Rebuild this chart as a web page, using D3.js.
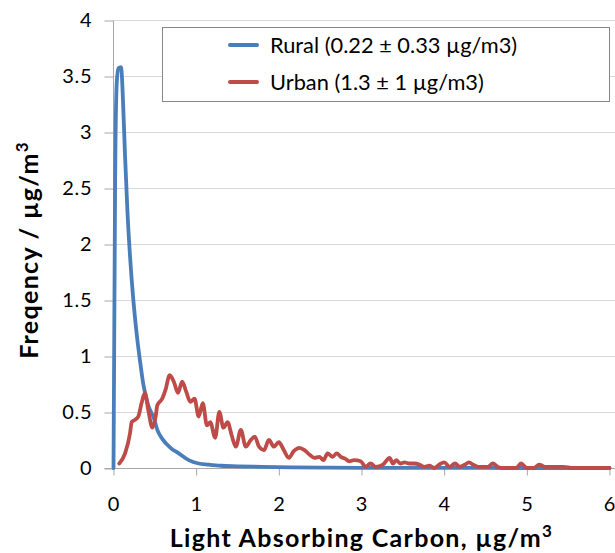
<!DOCTYPE html>
<html lang="en">
<head>
  <meta charset="UTF-8">
  <script src="https://d3js.org/d3.v7.min.js"></script>
  <title>Light Absorbing Carbon frequency</title>
  <style>
    body {
      margin: 0;
      background: #fff;
      font-family: Lato, "Open Sans", sans-serif;
    }
    .grid line { stroke: #d9d9d9; stroke-width: 1; }
    .axis path, .axis line { stroke: #a6a6a6; }
    .axis text { font-size: 20px; letter-spacing: 0.8px; fill: #000; font-family: Lato, sans-serif; }
    .title { font-size: 25px; font-weight: bold; fill: #000; }
    .legend text { font-size: 21.8px; fill: #000; }
  </style>
</head>
<body>
<script>
  // x ticks and y ticks as shown on the chart
  const xTicks = [0, 1, 2, 3, 4, 5, 6];
  const yTicks = [0, 0.5, 1, 1.5, 2, 2.5, 3, 3.5, 4];

  // Rural frequency distribution [LAC, frequency]
  const rural = [
    [0, 0], [0.02, 2.6], [0.04, 3.45], [0.06, 3.57], [0.09, 3.58], [0.10, 3.52],
    [0.11, 3.37], [0.14, 2.78], [0.17, 2.27], [0.20, 1.89], [0.24, 1.50],
    [0.28, 1.20], [0.32, 0.96], [0.36, 0.75], [0.42, 0.56], [0.49, 0.44],
    [0.53, 0.34], [0.59, 0.26], [0.69, 0.18], [0.79, 0.13], [0.91, 0.07],
    [1.03, 0.04], [1.15, 0.03], [1.3, 0.02], [1.5, 0.015], [1.8, 0.01],
    [2.2, 0.005], [2.6, 0.003], [3.0, 0.002], [4.0, 0.001], [5.0, 0], [6.0, 0]
  ];

  // Urban frequency distribution [LAC, frequency]
  const urban = [
    [0.07, 0.04], [0.14, 0.13], [0.20, 0.31], [0.22, 0.41], [0.26, 0.43], [0.30, 0.46],
    [0.34, 0.58], [0.38, 0.67], [0.42, 0.52], [0.47, 0.36], [0.51, 0.46], [0.53, 0.56],
    [0.59, 0.62], [0.63, 0.70], [0.68, 0.83], [0.73, 0.77], [0.78, 0.67], [0.83, 0.77],
    [0.88, 0.68], [0.93, 0.59], [0.98, 0.62], [1.03, 0.46], [1.08, 0.58], [1.13, 0.38],
    [1.17, 0.41], [1.23, 0.27], [1.28, 0.50], [1.33, 0.36], [1.38, 0.41], [1.43, 0.29],
    [1.48, 0.19], [1.54, 0.34], [1.60, 0.19], [1.66, 0.25], [1.71, 0.28], [1.76, 0.19],
    [1.82, 0.16], [1.88, 0.25], [1.94, 0.19], [2.00, 0.23], [2.06, 0.16], [2.12, 0.09],
    [2.18, 0.15], [2.25, 0.18], [2.31, 0.16], [2.37, 0.12], [2.43, 0.09], [2.49, 0.10],
    [2.54, 0.07], [2.59, 0.13], [2.65, 0.10], [2.70, 0.13], [2.75, 0.10], [2.81, 0.08],
    [2.85, 0.06], [2.91, 0.07], [2.99, 0.06], [3.05, 0.01], [3.11, 0.04], [3.17, 0.01],
    [3.26, 0.03], [3.34, 0.09], [3.38, 0.04], [3.42, 0.07], [3.47, 0.04], [3.52, 0.05],
    [3.58, 0.04], [3.64, 0.04], [3.70, 0.03], [3.76, 0.01], [3.82, 0.02], [3.88, 0.0],
    [3.94, 0.03], [4.00, 0.05], [4.07, 0.01], [4.13, 0.04], [4.19, 0.01], [4.25, 0.03],
    [4.30, 0.05], [4.35, 0.03], [4.41, 0.01], [4.47, 0.01], [4.53, 0.01], [4.59, 0.04],
    [4.65, 0.01], [4.71, 0], [4.81, 0], [4.87, 0], [4.93, 0.04], [5.0, 0], [5.08, 0],
    [5.15, 0.03], [5.22, 0.01], [5.32, 0.01], [5.44, 0.01], [5.56, 0], [5.68, 0], [6.0, 0]
  ];

  const seriesNames = ["Rural (0.22 \u00b1 0.33 \u00b5g/m3)", "Urban (1.3 \u00b1 1 \u00b5g/m3)"];
  const seriesColors = ["#4a7ebb", "#be4b48"];

  const width = 615, height = 553;
  const margin = { top: 20, right: 5.5, bottom: 85, left: 113.5 };

  const svg = d3.select("body").append("svg")
    .attr("width", width)
    .attr("height", height);

  const x = d3.scaleLinear().domain([0, 6]).range([margin.left, width - margin.right]);
  const y = d3.scaleLinear().domain([0, 4]).range([height - margin.bottom, margin.top]);

  // horizontal gridlines
  svg.append("g")
    .attr("class", "grid")
    .selectAll("line")
    .data(yTicks.filter(d => d > 0))
    .enter().append("line")
    .attr("x1", margin.left)
    .attr("x2", width)
    .attr("y1", d => y(d) + 0.5)
    .attr("y2", d => y(d) + 0.5);

  // y axis
  const yAxis = svg.append("g")
    .attr("class", "axis")
    .attr("transform", `translate(${margin.left},0.5)`)
    .call(d3.axisLeft(y).tickValues(yTicks).tickSize(9).tickPadding(12).tickFormat(d3.format("")));
  yAxis.select(".domain").remove();
  yAxis.append("line")
    .attr("y1", y(4)).attr("y2", y(0))
    .attr("stroke", "#a6a6a6");

  // x axis
  const xAxis = svg.append("g")
    .attr("class", "axis")
    .attr("transform", `translate(0,${y(0) + 0.5})`)
    .call(d3.axisBottom(x).tickValues(xTicks).tickSize(7).tickPadding(21).tickFormat(d3.format("d")));
  xAxis.select(".domain").remove();
  xAxis.append("line")
    .attr("x1", margin.left - 9).attr("x2", width)
    .attr("stroke", "#a6a6a6");

  // lines
  const line = d3.line()
    .x(d => x(d[0]))
    .y(d => y(d[1]))
    .curve(d3.curveMonotoneX);

  [rural, urban].forEach((data, i) => {
    svg.append("path")
      .datum(data)
      .attr("fill", "none")
      .attr("stroke", seriesColors[i])
      .attr("stroke-width", 3.8)
      .attr("stroke-linejoin", "round")
      .attr("stroke-linecap", "round")
      .attr("d", line);
  });

  // legend
  const legend = svg.append("g").attr("class", "legend");
  legend.append("rect")
    .attr("x", 162.5).attr("y", 27.5)
    .attr("width", 447).attr("height", 74)
    .attr("fill", "#fff")
    .attr("stroke", "#868686");
  seriesNames.forEach((name, i) => {
    const ly = 45 + i * 37;
    legend.append("line")
      .attr("x1", 230).attr("x2", 257)
      .attr("y1", ly).attr("y2", ly)
      .attr("stroke", seriesColors[i])
      .attr("stroke-width", 4)
      .attr("stroke-linecap", "round");
    legend.append("text")
      .attr("x", 270).attr("y", ly + 8)
      .text(name);
  });

  // axis titles
  svg.append("text")
    .attr("class", "title")
    .attr("x", (margin.left + width - margin.right) / 2)
    .attr("y", 547)
    .attr("text-anchor", "middle")
    .attr("letter-spacing", "1.3px")
    .html("Light Absorbing Carbon, \u00b5g/m<tspan dy='-10' font-size='17'>3</tspan>");

  svg.append("text")
    .attr("class", "title")
    .attr("transform", `translate(38,${(y(0) + y(4)) / 2 + 6}) rotate(-90)`)
    .attr("text-anchor", "middle")
    .attr("letter-spacing", "1.3px")
    .html("Freqency / \u00b5g/m<tspan dy='-10' font-size='17'>3</tspan>");
</script>
</body>
</html>
